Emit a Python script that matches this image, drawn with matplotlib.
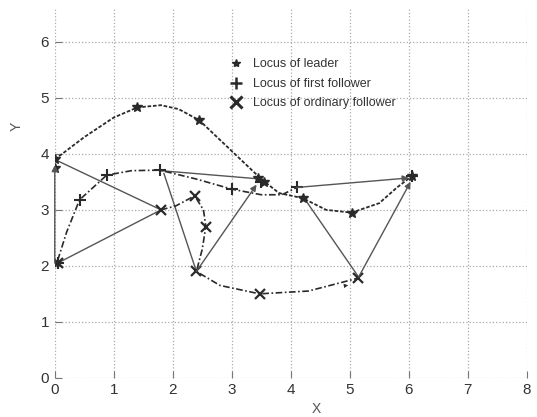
import matplotlib
matplotlib.use('Agg')
import matplotlib.pyplot as plt
from matplotlib.lines import Line2D

plt.rcParams['font.family'] = ['Liberation Sans', 'DejaVu Sans']

# locus of leader (curve) and its star markers
leader_x = [0.0, 0.5, 1.0, 1.4, 1.8, 2.1, 2.45, 2.9, 3.25, 3.5, 3.8, 4.2, 4.6, 5.03, 5.5, 5.8, 6.05]
leader_y = [3.9, 4.3, 4.65, 4.83, 4.87, 4.8, 4.6, 4.15, 3.8, 3.55, 3.3, 3.21, 3.0, 2.95, 3.12, 3.4, 3.6]
leader_mx = [0.0, 0.0, 1.4, 2.45, 3.45, 3.55, 4.2, 5.03, 6.05]
leader_my = [3.9, 3.75, 4.83, 4.6, 3.57, 3.5, 3.21, 2.95, 3.6]

# locus of first follower
first_x = [0.05, 0.2, 0.42, 0.88, 1.3, 1.78, 2.4, 3.0, 3.5, 3.85, 4.1]
first_y = [2.1, 2.6, 3.18, 3.62, 3.7, 3.71, 3.55, 3.37, 3.27, 3.27, 3.4]
first_mx = [0.05, 0.42, 0.88, 1.78, 3.0, 3.5, 4.1, 6.05]
first_my = [2.05, 3.18, 3.62, 3.71, 3.37, 3.5, 3.41, 3.6]

# locus of ordinary follower
ord_x = [1.8, 2.05, 2.37, 2.52, 2.56, 2.5, 2.4, 2.8, 3.47, 4.3, 5.14]
ord_y = [3.0, 3.07, 3.25, 3.0, 2.7, 2.3, 1.9, 1.65, 1.5, 1.55, 1.78]
ord_mx = [0.05, 1.8, 2.37, 2.56, 2.4, 3.47, 5.14]
ord_my = [2.05, 3.0, 3.25, 2.7, 1.9, 1.5, 1.78]

# formation links: (x0, y0, x1, y1, arrow)
links = [
    (0.0, 2.05, 0.0, 3.8, True),
    (0.0, 3.9, 1.8, 3.0, False),
    (0.05, 2.05, 1.8, 3.0, False),
    (1.8, 3.7, 3.5, 3.55, False),
    (1.85, 3.65, 2.4, 1.9, False),
    (2.4, 1.9, 3.42, 3.45, True),
    (4.1, 3.4, 6.0, 3.57, True),
    (4.2, 3.25, 5.15, 1.8, False),
    (5.15, 1.8, 6.03, 3.5, True),
]

legend_labels = ['Locus of leader', 'Locus of first follower', 'Locus of ordinary follower']

fig = plt.figure(figsize=(5.37, 4.17), dpi=100)
ax = fig.add_axes([0.102, 0.094, 0.879, 0.886])

dark = '#2a2a2a'
gray = '#555555'

for x0, y0, x1, y1, arrow in links:
    if arrow:
        ax.annotate('', xy=(x1, y1), xytext=(x0, y0),
                    arrowprops=dict(arrowstyle='-|>', color=gray, lw=1.0,
                                    mutation_scale=9, shrinkA=0, shrinkB=0))
    else:
        ax.plot([x0, x1], [y0, y1], color=gray, lw=1.0)

ax.plot(leader_x, leader_y, color=dark, lw=1.3, linestyle=(0, (2, 1)))
ax.plot(first_x, first_y, color=dark, lw=1.2, linestyle=(0, (4, 1.5, 1, 1.5)))
ax.plot(ord_x, ord_y, color=dark, lw=1.2, linestyle=(0, (4, 1.5, 1, 1.5)))
ax.annotate('', xy=(ord_x[-1] - 0.12, ord_y[-1] - 0.12), xytext=(ord_x[-2], ord_y[-2]),
            arrowprops=dict(arrowstyle='-|>', color=dark, lw=0, mutation_scale=8))

ax.plot(leader_mx, leader_my, linestyle='none', marker='*', ms=7, color=dark)
ax.plot(first_mx, first_my, linestyle='none', marker='+', ms=9, mew=1.5, color=dark)
ax.plot(ord_mx, ord_my, linestyle='none', marker='x', ms=7, mew=1.6, color=dark)

handles = [
    Line2D([], [], linestyle='none', marker='*', ms=6, color=dark),
    Line2D([], [], linestyle='none', marker='+', ms=9, mew=1.8, color=dark),
    Line2D([], [], linestyle='none', marker='x', ms=8, mew=2.2, color=dark),
]
ax.legend(handles, legend_labels, loc='upper left', bbox_to_anchor=(0.345, 0.895),
          frameon=False, fontsize=9, handletextpad=0.7, labelspacing=0.6,
          handlelength=1.2, labelcolor='#333333')

ax.set_xlim(0, 8)
ax.set_ylim(0, 6.6)
ax.set_xticks(range(0, 9))
ax.set_yticks(range(0, 7))
ax.grid(True, linestyle=':', color='#aaaaaa', lw=0.9)
for s in ax.spines.values():
    s.set_visible(False)
ax.tick_params(direction='in', length=5, color='#777777', labelsize=11,
               labelcolor='#333333', pad=4)
ax.set_xlabel('X', fontsize=10, color='#555555')
ax.xaxis.set_label_coords(0.555, -0.065)
ax.set_ylabel('Y', fontsize=10, color='#555555')
ax.yaxis.set_label_coords(-0.065, 0.68)

fig.savefig('out.png', dpi=100)
